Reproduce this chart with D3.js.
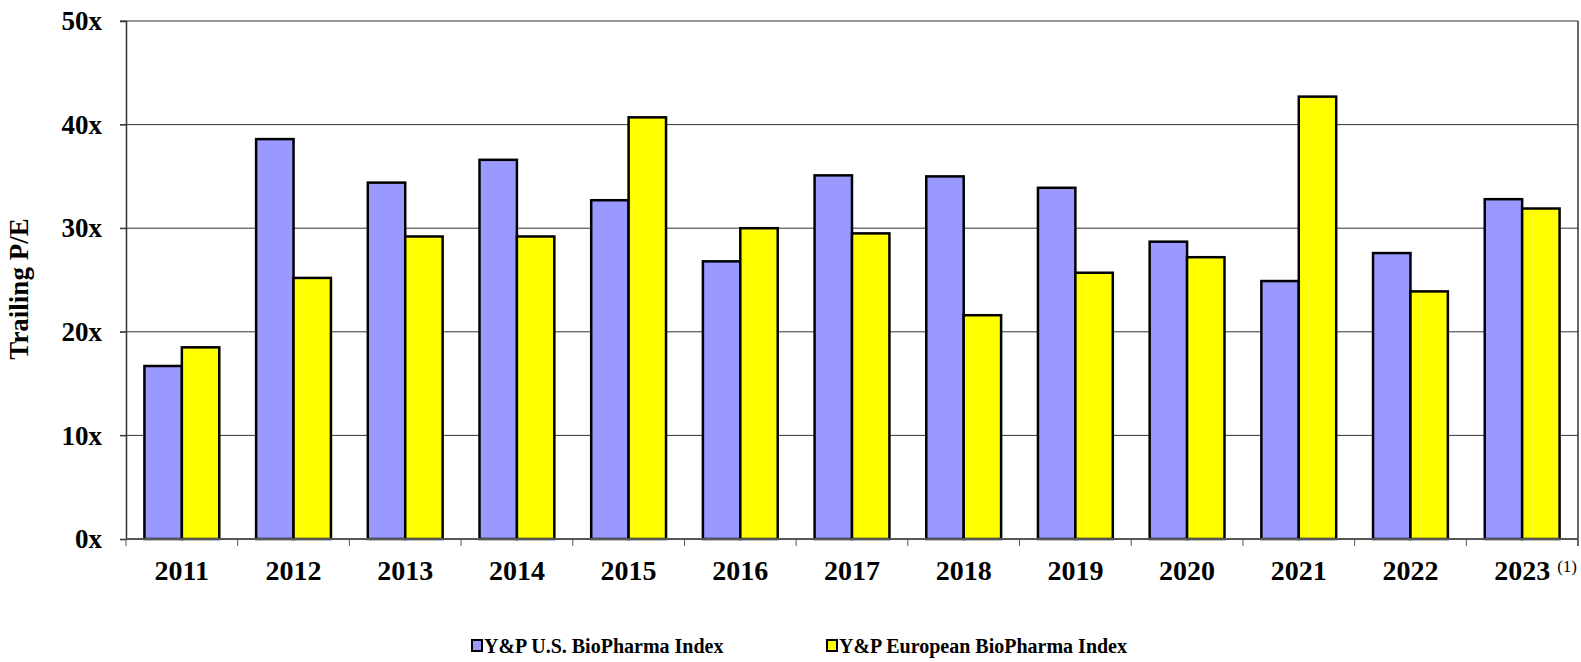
<!DOCTYPE html>
<html lang="en">
<head>
    <meta charset="utf-8">
    <title>Trailing P/E</title>
    <script src="https://cdn.jsdelivr.net/npm/d3@7/dist/d3.min.js"></script>
</head>
<style>
    body { margin: 0; background: #fff; }
    text { font-family: "Liberation Serif", "Times New Roman", serif; font-weight: bold; }
</style>
<body>
    <script>
     // chart data
     var years = ["2011", "2012", "2013", "2014", "2015", "2016", "2017", "2018", "2019", "2020", "2021", "2022", "2023"];
     var usIndex = [16.7, 38.6, 34.4, 36.6, 32.7, 26.8, 35.1, 35.0, 33.9, 28.7, 24.9, 27.6, 32.8];
     var euIndex = [18.5, 25.2, 29.2, 29.2, 40.7, 30.0, 29.5, 21.6, 25.7, 27.2, 42.7, 23.9, 31.9];
     var seriesNames = ["Y&P U.S. BioPharma Index", "Y&P European BioPharma Index"];
     var seriesColors = ["#9999ff", "#ffff00"];
     var yTicks = [0, 10, 20, 30, 40, 50];

     var width = 1581, height = 662;
     var plotLeft = 126, plotRight = 1578, plotTop = 21, plotBottom = 539;

     var svg = d3.select("body").append("svg")
                 .attr("width", width)
                 .attr("height", height);

     var x = d3.scaleBand().domain(years).range([plotLeft, plotRight]).paddingInner(0.33).paddingOuter(0.165);
     var xs = d3.scaleBand().domain([0, 1]).range([0, x.bandwidth()]);
     var y = d3.scaleLinear().domain([0, 50]).range([plotBottom, plotTop]);

     // gridlines
     svg.append("g").selectAll("line")
        .data(yTicks.filter(function(d) { return d > 0; }))
        .enter().append("line")
        .attr("x1", plotLeft - 6).attr("x2", plotRight)
        .attr("y1", function(d) { return y(d); })
        .attr("y2", function(d) { return y(d); })
        .attr("stroke", "#333")
        .attr("stroke-width", 1);

     // bars
     var groups = svg.append("g").selectAll("g")
                     .data(years)
                     .enter().append("g")
                     .attr("transform", function(d) { return "translate(" + x(d) + ",0)"; });

     groups.selectAll("rect")
           .data(function(d, i) { return [usIndex[i], euIndex[i]]; })
           .enter().append("rect")
           .attr("x", function(d, j) { return xs(j); })
           .attr("y", function(d) { return y(d); })
           .attr("width", xs.bandwidth())
           .attr("height", function(d) { return y(0) - y(d); })
           .attr("fill", function(d, j) { return seriesColors[j]; })
           .attr("stroke", "#000")
           .attr("stroke-width", 2.5);

     // y axis
     var yAxis = svg.append("g")
                    .attr("transform", "translate(" + plotLeft + ",0)")
                    .call(d3.axisLeft(y).tickValues(yTicks).tickSize(6).tickPadding(18)
                            .tickFormat(function(d) { return d + "x"; }));
     yAxis.select(".domain").attr("stroke", "#333").attr("stroke-width", 1.5);
     yAxis.selectAll(".tick line").attr("stroke", "#333");
     yAxis.selectAll("text")
          .attr("font-size", 27).attr("fill", "#000")
          .attr("font-family", "Liberation Serif").attr("font-weight", "bold");

     // right border
     svg.append("line")
        .attr("x1", plotRight).attr("x2", plotRight)
        .attr("y1", plotTop).attr("y2", plotBottom + 7)
        .attr("stroke", "#333").attr("stroke-width", 1.5);

     // x axis with ticks between the categories
     svg.append("line")
        .attr("x1", plotLeft).attr("x2", plotRight)
        .attr("y1", plotBottom).attr("y2", plotBottom)
        .attr("stroke", "#555").attr("stroke-width", 2);

     svg.append("g").selectAll("line")
        .data(years)
        .enter().append("line")
        .attr("x1", function(d) { return x(d) - x.step() * x.paddingInner() / 2; })
        .attr("x2", function(d) { return x(d) - x.step() * x.paddingInner() / 2; })
        .attr("y1", plotBottom).attr("y2", plotBottom + 7)
        .attr("stroke", "#555");

     svg.append("g").selectAll("text")
        .data(years)
        .enter().append("text")
        .attr("x", function(d) { return x(d) + x.bandwidth() / 2; })
        .attr("y", 580)
        .attr("text-anchor", "middle")
        .attr("font-size", 28)
        .text(function(d) { return d; });

     // footnote marker on last year
     svg.append("text")
        .attr("x", x("2023") + x.bandwidth() / 2 + 35)
        .attr("y", 572)
        .attr("font-size", 17)
        .style("font-weight", "normal")
        .text("(1)");

     // y title
     svg.append("text")
        .attr("transform", "translate(28,289) rotate(-90)")
        .attr("text-anchor", "middle")
        .attr("font-size", 27)
        .text("Trailing P/E");

     // legend
     var legendX = [472, 827];
     var legend = svg.append("g").selectAll("g")
                     .data(seriesNames)
                     .enter().append("g")
                     .attr("transform", function(d, i) { return "translate(" + legendX[i] + ",646)"; });
     legend.append("rect")
           .attr("x", 0).attr("y", -6)
           .attr("width", 10).attr("height", 11)
           .attr("fill", function(d, i) { return seriesColors[i]; })
           .attr("stroke", "#000").attr("stroke-width", 2);
     legend.append("text")
           .attr("x", 12).attr("y", 7)
           .attr("font-size", 20)
           .text(function(d) { return d; });
    </script>
</body>
</html>
